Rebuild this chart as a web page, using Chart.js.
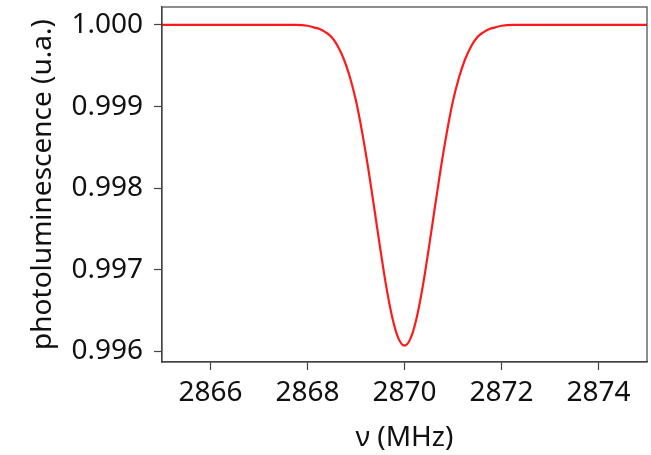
<!DOCTYPE html>
<html>
<head>
<meta charset="utf-8">
<script src="https://cdn.jsdelivr.net/npm/chart.js@4"></script>
<style>
  html, body { margin: 0; padding: 0; background: #fff; }
  #wrap { width: 651px; height: 455px; position: relative; }
</style>
</head>
<body>
<div id="wrap"><canvas id="odmr"></canvas></div>
<script>
// values
const freqMHz = [2865, 2866, 2867, 2867.5, 2867.75, 2868, 2868.125, 2868.25, 2868.375, 2868.5, 2868.625, 2868.75,
  2868.875, 2869, 2869.125, 2869.25, 2869.375, 2869.5, 2869.625, 2869.75, 2869.875, 2870,
  2870.125, 2870.25, 2870.375, 2870.5, 2870.625, 2870.75, 2870.875, 2871, 2871.125, 2871.25,
  2871.375, 2871.5, 2871.625, 2871.75, 2871.875, 2872, 2872.25, 2872.5, 2873, 2874, 2875];
const photolum = [1.00000, 1.00000, 1.00000, 1.00000, 1.00000, 0.99999, 0.99997, 0.99995, 0.99991, 0.99985, 0.99974, 0.99958,
  0.99936, 0.99907, 0.99869, 0.99825, 0.99776, 0.99726, 0.99679, 0.99641, 0.99616, 0.99607,
  0.99616, 0.99641, 0.99679, 0.99726, 0.99776, 0.99825, 0.99869, 0.99907, 0.99936, 0.99958,
  0.99974, 0.99985, 0.99991, 0.99995, 0.99997, 0.99999, 1.00000, 1.00000, 1.00000, 1.00000, 1.00000];
const xTicks = [2866, 2868, 2870, 2872, 2874];
const yTicks = [0.996, 0.997, 0.998, 0.999, 1.000];

const axisColor = '#444';
const textColor = '#111';
const fontFamily = "'Noto Sans', 'Open Sans', sans-serif";

const frameBox = {
  id: 'frameBox',
  afterDraw(chart){
    const {ctx, chartArea: a} = chart;
    ctx.save();
    ctx.strokeStyle = axisColor;
    ctx.lineWidth = 1.2;
    ctx.strokeRect(a.left, a.top, a.right - a.left, a.bottom - a.top);
    ctx.restore();
  }
};

new Chart(document.getElementById('odmr'), {
  type: 'line',
  data: {
    datasets: [{
      data: freqMHz.map((f, i) => ({ x: f, y: photolum[i] })),
      borderColor: '#ff1a1a',
      borderWidth: 2.2,
      pointRadius: 0,
      cubicInterpolationMode: 'monotone',
      fill: false
    }]
  },
  options: {
    responsive: true,
    maintainAspectRatio: false,
    animation: false,
    layout: { autoPadding: false, padding: { left: 0, right: 4, top: 7, bottom: 0 } },
    plugins: { legend: { display: false }, tooltip: { enabled: false } },
    scales: {
      x: {
        type: 'linear',
        min: 2865, max: 2875,
        afterBuildTicks: s => { s.ticks = xTicks.map(v => ({ value: v })); },
        afterFit: s => { s.height = 93; s.paddingLeft = 0; s.paddingRight = 0; },
        grid: { display: true, drawOnChartArea: false, drawTicks: true, tickLength: 8, color: axisColor, tickWidth: 1.2 },
        border: { display: true, color: axisColor, width: 1.2 },
        ticks: { color: textColor, font: { family: fontFamily, size: 28 }, padding: 6, maxRotation: 0, callback: v => String(v) },
        title: { display: true, text: 'ν (MHz)', color: textColor, font: { family: fontFamily, size: 28 }, padding: { top: 0, bottom: 0 } }
      },
      y: {
        type: 'linear',
        min: 0.99587, max: 1.00022,
        afterBuildTicks: s => { s.ticks = yTicks.map(v => ({ value: v })); },
        afterFit: s => { s.width = 162; s.paddingTop = 0; s.paddingBottom = 0; },
        grid: { display: true, drawOnChartArea: false, drawTicks: true, tickLength: 8, color: axisColor, tickWidth: 1.2 },
        border: { display: true, color: axisColor, width: 1.2 },
        ticks: { color: textColor, font: { family: fontFamily, size: 28 }, padding: 11, callback: v => v.toFixed(3) },
        title: { display: true, text: 'photoluminescence (u.a.)', color: textColor, font: { family: fontFamily, size: 28 }, padding: { top: 26, bottom: 0 } }
      }
    }
  },
  plugins: [frameBox]
});
</script>
</body>
</html>
